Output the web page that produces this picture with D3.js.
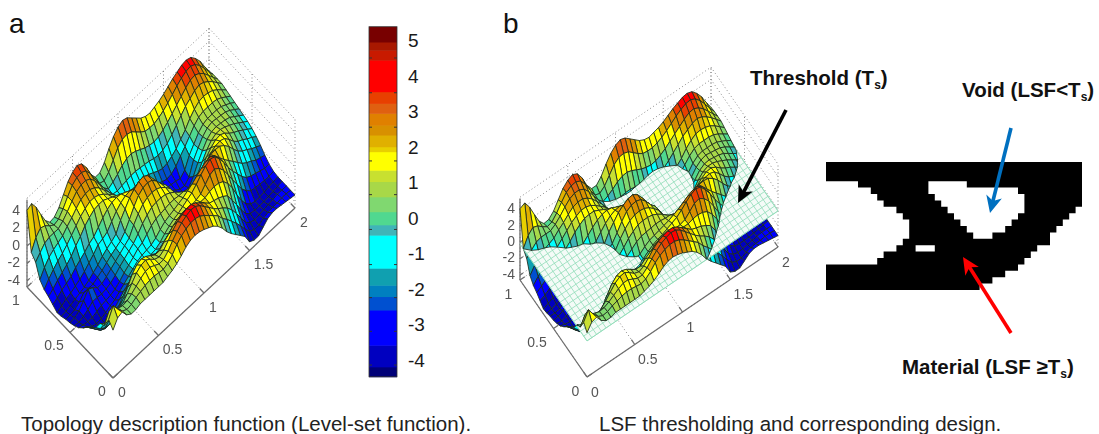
<!DOCTYPE html>
<html>
<head>
<meta charset="utf-8">
<script src="https://cdn.jsdelivr.net/npm/d3@7"></script>
<style>
  html, body { margin: 0; padding: 0; background: #fff; overflow: hidden; }
  text { font-family: "Liberation Sans", Arial, sans-serif; }
</style>
</head>
<body>
<svg id="chart" width="1099" height="434"></svg>
<script>
// level-set heights, one row per y step (0.05), 41 values per row (x step 0.05)
const row20 = [4.1,4.4,3.5,2.2,1.0,.3,.4,1.0,2.0,3.0,3.6,3.9,3.6,2.7,1.4,.6,.6,1.3,2.4,3.3,3.9,4.2,4.0,3.5,3.0,2.5,2.2,2.1,2.3,2.5,2.8,3.2,3.6,3.9,4.2,4.3,4.1,3.5,2.7,1.6,.6];
const row19 = [-.2,1.0,1.6,1.4,.9,.5,.7,1.4,2.3,3.1,3.5,3.6,3.3,2.5,1.4,.4,.2,.7,1.6,2.5,3.0,3.1,2.9,2.4,1.9,1.5,1.4,1.4,1.6,1.9,2.3,2.8,3.3,3.7,4.0,4.1,3.8,3.2,2.4,1.5,.7];
const row18 = [-.8,-.2,.4,.6,.6,.6,1.0,1.6,2.3,2.9,3.2,3.2,2.9,2.2,1.3,.4,-.2,.1,.5,1.0,1.3,1.4,1.2,.9,.6,.4,.3,.4,.7,1.1,1.6,2.1,2.6,3.1,3.5,3.6,3.3,2.8,2.1,1.4,.7];
const row17 = [-2.3,-1.4,-.7,-.3,.0,.3,.9,1.4,2.0,2.5,2.7,2.7,2.4,1.9,1.2,.5,-.3,-.4,-.3,-.2,-.1,-.1,-.2,-.3,-.4,-.6,-.7,-.6,-.3,.2,.8,1.4,2.0,2.4,2.8,3.0,2.8,2.4,1.9,1.3,.7];
const row16 = [-2.9,-2.2,-1.6,-1.1,-.7,-.2,.4,1.0,1.6,2.0,2.3,2.3,2.1,1.7,1.2,.7,.0,-.5,-.7,-.9,-.8,-.7,-.7,-.9,-1.2,-1.5,-1.7,-1.6,-1.3,-.9,-.3,.3,1.1,1.7,2.1,2.2,2.1,1.9,1.5,1.0,.5];
const row15 = [-3.2,-2.8,-2.3,-1.9,-1.5,-1.0,-.3,.3,1.0,1.5,1.9,2.0,2.0,1.7,1.4,1.1,.6,.0,-.5,-.9,-1.1,-1.2,-1.2,-1.5,-1.9,-2.2,-2.4,-2.3,-1.9,-1.2,-.6,.1,.8,1.3,1.5,1.5,1.5,1.4,1.1,.7,.3];
const row14 = [-3.6,-3.3,-2.9,-2.6,-2.3,-1.8,-1.4,-1.0,-.5,-.2,.4,1.0,1.5,1.8,1.9,1.8,1.5,1.2,.8,.4,.2,-.1,-.5,-1.2,-2.0,-2.4,-2.5,-2.6,-2.8,-2.3,-1.1,-.3,.5,1.0,1.2,1.2,1.2,1.1,.8,.5,.1];
const row13 = [-4.0,-3.7,-3.4,-3.2,-2.9,-2.6,-2.2,-1.7,-1.2,-.6,-.4,-.1,.6,1.3,1.8,2.1,2.2,2.0,1.6,1.1,.6,.3,-.1,-.7,-1.6,-2.2,-2.6,-3.0,-3.1,-2.6,-1.1,-.2,.6,1.1,1.3,1.2,1.1,1.0,.7,.3,-.1];
const row12 = [-3.9,-3.8,-3.6,-3.4,-3.2,-3.0,-2.7,-2.3,-1.9,-1.4,-1.0,-.7,-.3,.8,1.6,2.4,2.9,3.3,3.4,3.0,2.2,1.3,.5,-.3,-1.2,-2.0,-2.6,-2.9,-2.8,-2.0,-.9,.0,.8,1.2,1.3,1.2,1.1,.9,.5,.1,-.3];
const row11 = [-3.7,-3.7,-3.6,-3.2,-2.6,-2.6,-2.6,-2.3,-2.0,-1.6,-1.2,-.9,-.6,.0,.9,1.9,2.7,3.1,3.2,3.0,2.4,1.6,1.0,.0,-1.0,-1.8,-2.3,-2.5,-2.1,-1.2,-.3,.6,1.2,1.5,1.5,1.3,1.0,.7,.3,-.1,-.5];
const row10 = [-3.6,-3.5,-3.2,-2.5,-1.7,-2.0,-2.5,-2.5,-2.2,-1.8,-1.4,-1.0,-.6,-.2,.8,1.6,2.2,2.5,2.6,2.5,2.2,1.7,1.1,.1,-.9,-1.6,-1.8,-1.4,-.8,.0,.8,1.4,1.8,1.9,1.6,1.1,.7,.4,.0,-.4,-.8];
const row09 = [-3.4,-3.5,-3.3,-3.0,-2.6,-2.6,-2.7,-2.6,-2.4,-2.0,-1.5,-1.1,-.7,-.3,.3,1.0,1.5,1.9,2.0,2.0,1.9,1.6,1.2,.7,.1,-.3,-.4,-.1,.5,1.2,1.8,2.1,2.2,2.0,1.4,.7,.2,-.1,-.5,-.8,-1.2];
const row08 = [-3.1,-3.3,-3.4,-3.4,-3.2,-3.0,-2.9,-2.8,-2.6,-2.2,-1.7,-1.3,-.9,-.4,-.2,.3,.8,1.1,1.2,1.3,1.4,1.4,1.3,1.3,1.1,1.1,1.3,1.7,2.2,2.6,2.7,2.6,2.2,1.6,.8,.1,-.4,-.7,-1.1,-1.4,-1.7];
const row07 = [-2.6,-3.0,-3.4,-3.6,-3.5,-3.3,-3.0,-2.8,-2.4,-2.0,-1.6,-1.2,-.8,-.6,-.5,-.4,-.1,.4,.8,1.0,1.2,1.4,1.6,1.9,2.2,2.6,3.0,3.3,3.4,3.0,2.3,1.6,1.0,.4,-.2,-.8,-1.2,-1.5,-1.9,-2.1,-2.3];
const row06 = [-2.0,-2.6,-3.2,-3.6,-3.6,-3.3,-2.8,-2.3,-1.8,-1.4,-1.1,-.8,-.7,-.6,-.5,-.4,-.1,.4,.8,1.1,1.3,1.6,1.9,2.2,2.7,3.3,3.8,4.1,3.9,3.2,2.3,1.2,.3,-.5,-1.3,-1.9,-2.2,-2.4,-2.6,-2.8,-2.8];
const row05 = [-1.5,-2.2,-2.8,-3.1,-3.0,-2.6,-2.0,-1.3,-.6,-.1,.3,.4,.4,.3,.1,.2,.6,1.0,1.3,1.6,1.8,1.8,1.8,1.9,2.1,2.7,3.3,3.5,3.1,2.4,1.4,.3,-.7,-1.7,-2.4,-2.9,-3.0,-3.1,-3.2,-3.2,-3.1];
const row04 = [-1.0,-1.6,-2.0,-2.1,-1.8,-1.3,-.7,.2,1.2,1.8,2.0,1.8,1.4,1.0,1.0,1.5,1.9,2.4,2.7,2.9,2.9,2.6,2.3,2.2,2.2,2.4,2.5,2.4,2.1,1.4,.4,-.9,-2.0,-2.9,-3.4,-3.6,-3.6,-3.5,-3.4,-3.3,-3.2];
const row03 = [.0,-.5,-.6,-.6,-.4,-.1,.5,1.2,1.9,2.3,2.4,2.0,1.5,1.3,1.6,2.2,2.9,3.4,3.7,3.9,3.9,3.6,3.1,2.6,2.1,1.9,1.7,1.4,1.0,.0,-1.0,-2.1,-3.0,-3.5,-3.6,-3.6,-3.6,-3.5,-3.4,-3.3,-3.2];
const row02 = [.3,1.4,1.1,.8,.6,.7,1.0,1.4,1.8,2.1,2.1,1.8,1.5,1.5,2.0,2.7,3.3,3.8,4.1,4.3,4.2,3.8,3.2,2.6,2.0,1.5,1.1,.6,-.1,-1.0,-2.0,-3.0,-3.5,-3.7,-3.6,-3.5,-3.4,-3.3,-3.2,-3.2,-3.2];
const row01 = [1.5,2.6,1.7,1.0,.7,.8,1.1,1.3,1.5,1.6,1.6,1.5,1.4,1.6,2.1,2.8,3.3,3.6,3.8,3.8,3.6,3.2,2.7,2.2,1.7,.9,.3,-.4,-1.1,-1.9,-2.8,-3.5,-3.8,-3.8,-3.5,-3.3,-3.2,-3.2,-3.1,-3.1,-3.2];
const row00 = [.8,1.7,1.9,1.1,.7,.7,.9,.9,.9,.9,.9,.9,1.1,1.3,1.6,2.0,2.5,2.8,2.9,2.8,2.6,2.3,2.0,1.5,.8,-.1,-.8,-1.4,-2.0,-2.6,-3.7,-4.0,-4.0,-3.5,-3.0,-2.8,-2.8,-2.9,-3.0,-3.1,-3.2];
const heights = [row00,row01,row02,row03,row04,row05,row06,row07,row08,row09,row10,row11,row12,row13,row14,row15,row16,row17,row18,row19,row20];

// colorbar bands: upper edge of each band is the next entry of bandEdges
const bandEdges = [-4.15,-3.54,-2.55,-2.17,-1.85,-1.37,-.44,-.15,.22,.64,1.07,1.39,1.91,2.05,2.38,2.66,2.99,3.27,3.6,4.49,4.77,5.0];
const bandColors = ['#000078','#0000c0','#0000ff','#0050d0','#0080c0','#10a0b0','#00ffff','#40b4b8','#50d890','#80d870','#a8d848','#c8e030','#ffff00','#e8d000','#e0b000','#d89000','#e08000','#e06010','#e84000','#ff0000','#c81a00','#a81800','#780000'];
const barLabels = [5,4,3,2,1,0,-1,-2,-3,-4];
const barTicks = [4.55,3.57,2.6,1.65,.7,-.28,-1.27,-2.2,-3.15,-4.1];

const xTicks = [0,.5,1,1.5,2];
const yTicks = [0,.5,1];
const zTicks = [-4,-2,0,2,4];
const threshold = -.2;

// thresholded design, 40 x 20 cells, # is material
const designRows = [
  '########################################',
  '########################################',
  '########################################',
  '.....###########......##################',
  '.......#########..............##########',
  '........#########..............#########',
  '.........#########.............#########',
  '...........########............########.',
  '............########..........########..',
  '.............########........########...',
  '.............#########......########....',
  '.............##########...#########.....',
  '............#######################.....',
  '...........###...################.......',
  '.........#######################........',
  '........#######################.........',
  '##############################..........',
  '############################............',
  '##########################..............',
  '########################................'
];

const svg = d3.select('#chart');
const defs = svg.append('defs');
defs.append('filter').attr('id', 'soft').attr('x', '-5%').attr('y', '-5%').attr('width', '110%').attr('height', '110%')
  .append('feGaussianBlur').attr('stdDeviation', .45);
defs.append('filter').attr('id', 'softText')
  .append('feGaussianBlur').attr('stdDeviation', .35);

const bandColor = d3.scaleThreshold().domain(bandEdges).range(bandColors);
// the surface colours sit a little below the printed axis values
const surfaceColor = z => bandColor(z - .3);

function makeProjection(p) {
  const xPx = d3.scaleLinear().domain([0, 2]).range([p.origin[0], p.xEnd[0]]);
  const xPy = d3.scaleLinear().domain([0, 2]).range([0, p.xEnd[1] - p.origin[1]]);
  const yPx = d3.scaleLinear().domain([0, 1]).range([0, p.yEnd[0] - p.origin[0]]);
  const yPy = d3.scaleLinear().domain([0, 1]).range([0, p.yEnd[1] - p.origin[1]]);
  const zPy = d3.scaleLinear().domain([p.zFloor, 5.5]).range([0, -(5.5 - p.zFloor) * p.zUnit]);
  return (x, y, z) => [xPx(x) + yPx(y), p.origin[1] + xPy(x) + yPy(y) + zPy(z)];
}

// keep the part of a cell on one side of the plane
function clipCell(corners, level, keepAbove) {
  const inside = c => keepAbove ? c[2] >= level : c[2] <= level;
  const out = [];
  corners.forEach((c, k) => {
    const next = corners[(k + 1) % corners.length];
    if (inside(c)) out.push(c);
    if (inside(c) !== inside(next)) {
      const t = (level - c[2]) / (next[2] - c[2]);
      out.push([c[0] + t * (next[0] - c[0]), c[1] + t * (next[1] - c[1]), level]);
    }
  });
  return out;
}

function surfaceCells() {
  const cells = [];
  for (let i = 39; i >= 0; i--) {
    for (let j = 19; j >= 0; j--) {
      const corners = [[i, j], [i + 1, j], [i + 1, j + 1], [i, j + 1]]
        .map(([a, b]) => [a * .05, b * .05, heights[b][a]]);
      cells.push({ corners, mean: d3.mean(corners, c => c[2]) });
    }
  }
  return cells;
}

function drawCells(g, cells, project) {
  const line = d3.line();
  g.selectAll(null).data(cells).join('path')
    .attr('d', d => line(d.corners.map(c => project(c[0], c[1], c[2]))) + 'Z')
    .attr('fill', d => surfaceColor(d.mean))
    .attr('stroke', '#1c2a1c')
    .attr('stroke-width', .85)
    .attr('stroke-linejoin', 'round');
}

function drawBox(g, p, project) {
  const dotted = (a, b) => g.append('line')
    .attr('x1', a[0]).attr('y1', a[1]).attr('x2', b[0]).attr('y2', b[1])
    .attr('stroke', '#8a8a8a').attr('stroke-width', 1).attr('stroke-dasharray', '1 2.5');
  const solid = (a, b) => g.append('line')
    .attr('x1', a[0]).attr('y1', a[1]).attr('x2', b[0]).attr('y2', b[1])
    .attr('stroke', '#6e6e6e').attr('stroke-width', 1.3);
  const zTop = 5.5;
  // floor and back walls
  xTicks.forEach(x => {
    dotted(project(x, 0, p.zFloor), project(x, 1, p.zFloor));
    dotted(project(x, 1, p.zFloor), project(x, 1, zTop));
  });
  yTicks.forEach(y => {
    dotted(project(0, y, p.zFloor), project(2, y, p.zFloor));
    dotted(project(2, y, p.zFloor), project(2, y, zTop));
  });
  zTicks.concat(zTop).forEach(z => {
    dotted(project(0, 1, z), project(2, 1, z));
    dotted(project(2, 1, z), project(2, 0, z));
  });
  // solid axes and ticks
  solid(project(0, 0, p.zFloor), project(2, 0, p.zFloor));
  solid(project(0, 0, p.zFloor), project(0, 1, p.zFloor));
  solid(project(0, 1, p.zFloor), project(0, 1, zTop - .2));
  xTicks.forEach(x => solid(project(x, 0, p.zFloor), project(x, .05, p.zFloor)));
  yTicks.forEach(y => solid(project(0, y, p.zFloor), project(.05, y, p.zFloor)));
  zTicks.forEach(z => solid(project(0, 1, z), project(.03, 1, z)));
  // tick labels
  const label = (t, pos, anchor) => g.append('text')
    .attr('x', pos[0]).attr('y', pos[1]).attr('text-anchor', anchor || 'middle')
    .attr('dominant-baseline', 'middle')
    .attr('font-size', 14).attr('fill', '#555').text(t);
  xTicks.forEach(x => {
    const a = project(x, 0, p.zFloor);
    const wide = String(x).length > 1 ? p.wideLabel : 0;
    label(String(x), [a[0] + p.xLabel[0] + wide, a[1] + p.xLabel[1]]);
  });
  yTicks.forEach(y => {
    const a = project(0, y, p.zFloor);
    const wide = String(y).length > 1 ? p.wideLabel : 0;
    label(String(y), [a[0] + p.yLabel[0] - wide, a[1] + p.yLabel[1]]);
  });
  zTicks.forEach(z => {
    const a = project(0, 1, z);
    label(String(z), [a[0] - p.zLabel, a[1]], 'end');
  });
}

function drawSurfacePanel(p, withPlane) {
  const project = makeProjection(p);
  const back = svg.append('g').attr('filter', 'url(#softText)');
  drawBox(back, p, project);
  const g = svg.append('g').attr('filter', 'url(#soft)');
  const cells = surfaceCells();
  if (!withPlane) {
    drawCells(g, cells, project);
    return;
  }
  const below = cells
    .map(d => ({ corners: clipCell(d.corners, threshold, false), mean: d.mean }))
    .filter(d => d.corners.length > 2);
  const above = cells
    .map(d => ({ corners: clipCell(d.corners, threshold, true), mean: Math.max(d.mean, threshold) }))
    .filter(d => d.corners.length > 2);
  drawCells(g, below, project);
  // threshold plane
  const corner = (x, y) => project(x, y, threshold);
  g.append('path')
    .attr('d', d3.line()([corner(0, 0), corner(2, 0), corner(2, 1), corner(0, 1)]) + 'Z')
    .attr('fill', '#f4fbf7').attr('stroke', '#8fdcb8').attr('stroke-width', .8);
  d3.range(0, 41).forEach(i => {
    const a = corner(i * .05, 0), b = corner(i * .05, 1);
    g.append('line').attr('x1', a[0]).attr('y1', a[1]).attr('x2', b[0]).attr('y2', b[1])
      .attr('stroke', '#8fdcb8').attr('stroke-width', .8);
  });
  d3.range(0, 21).forEach(j => {
    const a = corner(0, j * .05), b = corner(2, j * .05);
    g.append('line').attr('x1', a[0]).attr('y1', a[1]).attr('x2', b[0]).attr('y2', b[1])
      .attr('stroke', '#8fdcb8').attr('stroke-width', .8);
  });
  drawCells(g, above, project);
}

drawSurfacePanel({
  origin: [113, 378], xEnd: [295, 208], yEnd: [27, 287], zFloor: -4.7, zUnit: 8.7,
  xLabel: [9, 15], yLabel: [-11, 14], zLabel: 7, wideLabel: 5
}, false);

drawSurfacePanel({
  origin: [587, 377], xEnd: [778, 247], yEnd: [520, 280], zFloor: -4.6, zUnit: 8.2,
  xLabel: [8, 16], yLabel: [-11.5, 15], zLabel: 5, wideLabel: 5
}, true);

// colorbar
const barY = d3.scaleLinear().domain([5, -4]).range([42, 361.5]);
const barEdges = [-4.43].concat(bandEdges, 5.43);
const bar = svg.append('g');
bar.selectAll('rect').data(bandColors).join('rect')
  .attr('x', 369).attr('width', 28)
  .attr('y', (d, k) => barY(barEdges[k + 1]))
  .attr('height', (d, k) => barY(barEdges[k]) - barY(barEdges[k + 1]) + .5)
  .attr('fill', d => d);
bar.append('rect').attr('x', 369).attr('y', barY(5.43)).attr('width', 28)
  .attr('height', barY(-4.43) - barY(5.43)).attr('fill', 'none').attr('stroke', '#333').attr('stroke-width', .8);
barTicks.forEach(t => {
  bar.append('line').attr('x1', 369).attr('x2', 372).attr('y1', barY(t)).attr('y2', barY(t)).attr('stroke', '#333');
  bar.append('line').attr('x1', 394).attr('x2', 397).attr('y1', barY(t)).attr('y2', barY(t)).attr('stroke', '#333');
});
bar.selectAll('text').data(barLabels).join('text')
  .attr('x', 408).attr('y', d => barY(d)).attr('dominant-baseline', 'middle')
  .attr('font-size', 19).attr('fill', '#1a1a1a').text(d => d);

// binary design, one path so the cells join without seams
const designX = d3.scaleLinear().domain([0, 40]).range([826, 1082]);
const designY = d3.scaleLinear().domain([0, 20]).range([162, 290]);
const designPath = d3.path();
designRows.forEach((row, r) => row.split('').forEach((c, k) => {
  if (c === '#') designPath.rect(designX(k), designY(r), designX(k + 1) - designX(k), designY(r + 1) - designY(r));
}));
svg.append('path').attr('d', designPath.toString()).attr('fill', '#000').attr('filter', 'url(#softText)');

// arrows
function arrow(from, to, color, width, headLen, headHalf) {
  const a = Math.atan2(to[1] - from[1], to[0] - from[0]);
  const along = (l, s) => [to[0] - l * Math.cos(a) - s * Math.sin(a), to[1] - l * Math.sin(a) + s * Math.cos(a)];
  svg.append('line').attr('x1', from[0]).attr('y1', from[1])
    .attr('x2', along(headLen * .7, 0)[0]).attr('y2', along(headLen * .7, 0)[1])
    .attr('stroke', color).attr('stroke-width', width);
  svg.append('path')
    .attr('d', d3.line()([to, along(headLen, headHalf), along(headLen * .72, 0), along(headLen, -headHalf)]) + 'Z')
    .attr('fill', color);
}
arrow([786, 110], [738, 203], '#000', 3.6, 17, 8);
arrow([1011, 128], [990, 213], '#0070c0', 3.6, 17, 8);
arrow([1011, 333], [963, 257], '#ff0000', 3.6, 17, 8);

// text
function boldLabel(x, y, before, after) {
  const t = svg.append('text').attr('x', x).attr('y', y)
    .attr('font-size', 20.5).attr('font-weight', 'bold').attr('fill', '#111');
  t.append('tspan').text(before);
  t.append('tspan').attr('font-size', 12).attr('dy', 4).text('s');
  t.append('tspan').attr('dy', -4).text(after);
}
boldLabel(750, 85, 'Threshold (T', ')');
boldLabel(962, 97, 'Void (LSF<T', ')');
boldLabel(902, 374, 'Material (LSF ≥T', ')');

svg.append('text').attr('x', 9).attr('y', 33).attr('font-size', 28).attr('fill', '#111').text('a');
svg.append('text').attr('x', 503).attr('y', 33).attr('font-size', 28).attr('fill', '#111').text('b');
svg.append('text').attr('x', 21).attr('y', 431).attr('font-size', 20.5).attr('fill', '#222')
  .text('Topology description function (Level-set function).');
svg.append('text').attr('x', 599).attr('y', 431).attr('font-size', 20.5).attr('fill', '#222')
  .text('LSF thresholding and corresponding design.');
</script>
</body>
</html>
